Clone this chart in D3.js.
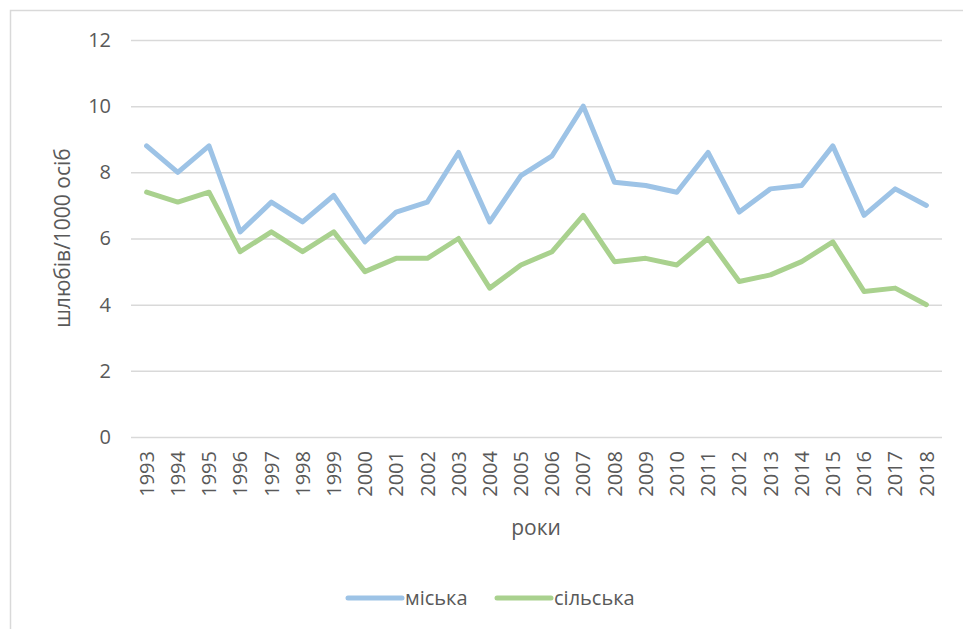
<!DOCTYPE html>
<html>
<head>
    <meta charset="UTF-8">
    <title>Шлюби: міська та сільська місцевість</title>
    <style>
        body {
            margin: 0;
            background-color: white;
            font-family: "Open Sans", sans-serif;
        }
        svg {
            display: block;
        }
        text {
            fill: #595959;
        }
        .grid line {
            stroke: #d9d9d9;
            stroke-width: 1.5px;
        }
    </style>
</head>
<body>
    <svg id="chart" width="963" height="629"></svg>

    <script src="https://d3js.org/d3.v7.min.js"></script>
    <script>
        // Data
        var years = ["1993", "1994", "1995", "1996", "1997", "1998", "1999", "2000", "2001",
            "2002", "2003", "2004", "2005", "2006", "2007", "2008", "2009", "2010", "2011",
            "2012", "2013", "2014", "2015", "2016", "2017", "2018"];
        var urban = [8.8, 8.0, 8.8, 6.2, 7.1, 6.5, 7.3, 5.9, 6.8, 7.1, 8.6, 6.5, 7.9, 8.5,
            10.0, 7.7, 7.6, 7.4, 8.6, 6.8, 7.5, 7.6, 8.8, 6.7, 7.5, 7.0];
        var rural = [7.4, 7.1, 7.4, 5.6, 6.2, 5.6, 6.2, 5.0, 5.4, 5.4, 6.0, 4.5, 5.2, 5.6,
            6.7, 5.3, 5.4, 5.2, 6.0, 4.7, 4.9, 5.3, 5.9, 4.4, 4.5, 4.0];
        var yTicks = [0, 2, 4, 6, 8, 10, 12];
        var seriesNames = ["міська", "сільська"];
        var seriesColors = ["#9dc3e6", "#a9d18e"];

        var svg = d3.select("#chart");

        // Chart border (cropped on the right and bottom)
        svg.append("rect")
            .attr("x", 10.5)
            .attr("y", 10.5)
            .attr("width", 1000)
            .attr("height", 1000)
            .attr("fill", "none")
            .attr("stroke", "#d9d9d9")
            .attr("stroke-width", 1.5);

        var plot = { left: 131, right: 942, top: 40, bottom: 437 };

        var x = d3.scaleBand()
            .domain(years)
            .range([plot.left, plot.right]);

        var y = d3.scaleLinear()
            .domain([0, 12])
            .range([plot.bottom, plot.top]);

        // Horizontal gridlines
        svg.append("g")
            .attr("class", "grid")
            .attr("transform", "translate(" + plot.left + ",0)")
            .call(d3.axisLeft(y).tickValues(yTicks).tickSize(-(plot.right - plot.left)).tickFormat(""))
            .call(function(g) { g.select(".domain").remove(); });

        // Y tick labels
        svg.append("g")
            .attr("transform", "translate(" + (plot.left - 20) + ",0)")
            .call(d3.axisLeft(y).tickValues(yTicks).tickSize(0).tickPadding(0))
            .call(function(g) {
                g.select(".domain").remove();
                g.selectAll("text")
                    .attr("font-family", "Open Sans")
                    .attr("font-size", "20px")
                    .attr("fill", "#595959");
            });

        // X tick labels, rotated
        svg.append("g")
            .attr("transform", "translate(0," + plot.bottom + ")")
            .call(d3.axisBottom(x).tickSize(0).tickPadding(0))
            .call(function(g) {
                g.select(".domain").remove();
                g.selectAll("text")
                    .attr("font-family", "Open Sans")
                    .attr("font-size", "20px")
                    .attr("fill", "#595959")
                    .attr("text-anchor", "end")
                    .attr("dy", "0.36em")
                    .attr("transform", "translate(0,14) rotate(-90)");
            });

        // Axis titles
        svg.append("text")
            .attr("transform", "translate(70,238) rotate(-90)")
            .attr("text-anchor", "middle")
            .attr("font-size", "21px")
            .text("шлюбів/1000 осіб");

        svg.append("text")
            .attr("x", 536)
            .attr("y", 535)
            .attr("text-anchor", "middle")
            .attr("font-size", "21px")
            .text("роки");

        // Lines
        var line = d3.line()
            .x(function(d, i) { return x(years[i]) + x.bandwidth() / 2; })
            .y(function(d) { return y(d); });

        [urban, rural].forEach(function(values, i) {
            svg.append("path")
                .datum(values)
                .attr("fill", "none")
                .attr("stroke", seriesColors[i])
                .attr("stroke-width", 5)
                .attr("stroke-linejoin", "round")
                .attr("stroke-linecap", "round")
                .attr("d", line);
        });

        // Legend
        var legendX = [348, 497];
        var legend = svg.append("g");
        seriesNames.forEach(function(name, i) {
            legend.append("line")
                .attr("x1", legendX[i])
                .attr("x2", legendX[i] + 54)
                .attr("y1", 598)
                .attr("y2", 598)
                .attr("stroke", seriesColors[i])
                .attr("stroke-width", 5)
                .attr("stroke-linecap", "round");
            legend.append("text")
                .attr("x", legendX[i] + 57)
                .attr("y", 605)
                .attr("font-size", "20px")
                .text(name);
        });
    </script>
</body>
</html>
